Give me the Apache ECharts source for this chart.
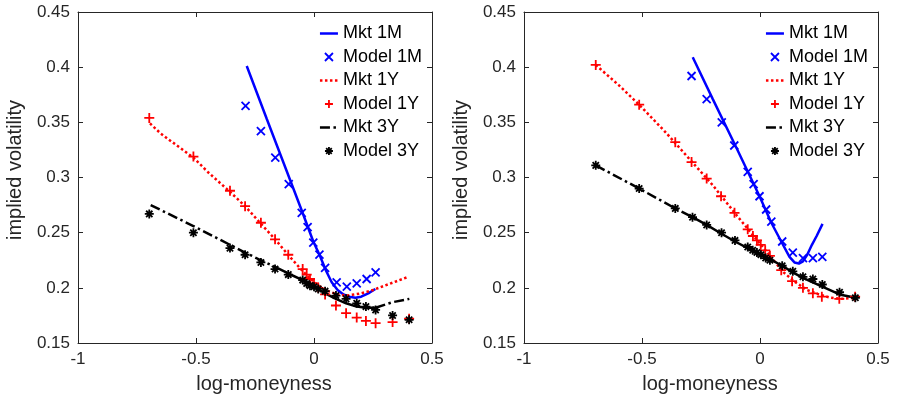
<!DOCTYPE html>
<html>
<head>
<meta charset="utf-8">
<script src="https://cdn.jsdelivr.net/npm/echarts@6/dist/echarts.min.js"></script>
<style>
html,body{margin:0;padding:0;background:#fff;}
#c{width:898px;height:403px;}
</style>
</head>
<body>
<div id="c"></div>
<script>
// ---------- data ----------
var names = ['Mkt 1M', 'Model 1M', 'Mkt 1Y', 'Model 1Y', 'Mkt 3Y', 'Model 3Y'];
var xTicks = [-1, -0.5, 0, 0.5];
var yTicks = [0.15, 0.2, 0.25, 0.3, 0.35, 0.4, 0.45];

// Left panel
var L_mkt1m_x = [-0.285,-0.2,-0.1,-0.05,-0.003,0.025,0.05,0.075,0.1,0.125,0.15,0.175,0.2,0.23,0.26];
var L_mkt1m_y = [0.401,0.353,0.297,0.269,0.242,0.229,0.216,0.205,0.198,0.194,0.192,0.191,0.192,0.195,0.199];
var L_mod1m_x = [-0.290,-0.225,-0.164,-0.107,-0.052,-0.027,-0.003,0.023,0.047,0.096,0.139,0.181,0.223,0.261];
var L_mod1m_y = [0.365,0.342,0.318,0.294,0.268,0.255,0.241,0.230,0.218,0.205,0.201,0.204,0.208,0.214];
var L_mkt1y_x = [-0.695,-0.65,-0.6,-0.511,-0.45,-0.356,-0.292,-0.229,-0.165,-0.102,-0.06,-0.02,0.02,0.06,0.1,0.14,0.2,0.25,0.3,0.35,0.4];
var L_mkt1y_y = [0.349,0.340,0.332,0.318,0.305,0.287,0.274,0.259,0.244,0.228,0.218,0.209,0.202,0.197,0.194,0.193,0.195,0.198,0.202,0.206,0.210];
var L_mod1y_x = [-0.698,-0.511,-0.356,-0.292,-0.225,-0.165,-0.109,-0.048,-0.031,-0.017,0,0.018,0.047,0.093,0.136,0.181,0.220,0.261,0.333,0.403];
var L_mod1y_y = [0.354,0.319,0.288,0.274,0.259,0.244,0.230,0.217,0.212,0.208,0.204,0.200,0.194,0.184,0.177,0.173,0.170,0.168,0.169,0.172];
var L_mkt3y_x = [-0.692,-0.511,-0.356,-0.292,-0.225,-0.165,-0.109,-0.048,0,0.047,0.093,0.136,0.181,0.220,0.261,0.333,0.404];
var L_mkt3y_y = [0.275,0.256,0.239,0.232,0.225,0.219,0.213,0.207,0.201,0.195,0.190,0.186,0.183,0.182,0.182,0.187,0.190];
var L_mod3y_x = [-0.698,-0.511,-0.356,-0.292,-0.225,-0.165,-0.109,-0.048,-0.031,-0.017,0,0.018,0.047,0.093,0.136,0.181,0.220,0.261,0.333,0.403];
var L_mod3y_y = [0.267,0.250,0.236,0.230,0.223,0.217,0.212,0.207,0.204,0.202,0.201,0.199,0.197,0.193,0.190,0.186,0.183,0.180,0.175,0.171];

// Right panel
var R_mkt1m_x = [-0.285,-0.2,-0.1,-0.002,0.048,0.09,0.125,0.146,0.165,0.182,0.2,0.22,0.24,0.265];
var R_mkt1m_y = [0.409,0.371,0.327,0.283,0.259,0.242,0.228,0.223,0.222,0.224,0.230,0.239,0.247,0.258];
var R_mod1m_x = [-0.290,-0.226,-0.162,-0.109,-0.052,-0.027,-0.002,0.026,0.048,0.094,0.139,0.182,0.224,0.264];
var R_mod1m_y = [0.392,0.371,0.350,0.329,0.305,0.294,0.283,0.271,0.260,0.242,0.232,0.227,0.227,0.228];
var R_mkt1y_x = [-0.696,-0.6,-0.512,-0.4,-0.3,-0.2,-0.1,-0.05,0,0.05,0.1,0.15,0.2,0.25,0.3,0.35,0.405];
var R_mkt1y_y = [0.402,0.384,0.366,0.341,0.317,0.293,0.266,0.253,0.240,0.227,0.214,0.205,0.198,0.194,0.191,0.190,0.191];
var R_mod1y_x = [-0.696,-0.512,-0.359,-0.290,-0.226,-0.165,-0.108,-0.052,-0.030,-0.013,0.003,0.022,0.042,0.090,0.136,0.182,0.224,0.262,0.336,0.403];
var R_mod1y_y = [0.402,0.366,0.332,0.314,0.299,0.283,0.268,0.253,0.247,0.243,0.239,0.234,0.229,0.216,0.206,0.200,0.195,0.192,0.190,0.192];
var R_mkt3y_x = [-0.696,-0.512,-0.359,-0.286,-0.226,-0.163,-0.106,-0.052,0.004,0.042,0.094,0.139,0.182,0.224,0.264,0.337,0.404];
var R_mkt3y_y = [0.311,0.290,0.272,0.264,0.257,0.249,0.242,0.236,0.230,0.226,0.220,0.214,0.209,0.205,0.201,0.194,0.191];
var R_mod3y_x = [-0.696,-0.512,-0.359,-0.286,-0.226,-0.163,-0.106,-0.052,-0.031,-0.013,0.004,0.024,0.042,0.094,0.139,0.182,0.224,0.264,0.337,0.404];
var R_mod3y_y = [0.311,0.290,0.272,0.264,0.257,0.250,0.243,0.237,0.234,0.232,0.230,0.227,0.225,0.220,0.215,0.210,0.208,0.203,0.196,0.191];

// ---------- styling ----------
var FONT = "'Liberation Sans', Arial, Helvetica, sans-serif";
var AX = '#262626';
var BLUE = '#0000FF', RED = '#FF0000', BLACK = '#000000';
var SYM_X = 'path://M0 0L10 10M10 0L0 10';
var SYM_PLUS = 'path://M5 0L5 10M0 5L10 5';
var SYM_STAR = 'path://M5 0L5 10M0 5L10 5M1.5 1.5L8.5 8.5M8.5 1.5L1.5 8.5';
var DOT = [2.5, 2.5];
var DASHDOT = [10, 3.5, 2.5, 3.5];

function pairs(xs, ys, a, b) {
  var out = [];
  for (var i = (a || 0); i < (b === undefined ? xs.length : b); i++) out.push([xs[i], ys[i]]);
  return out;
}

var grids = [
  {left: 78, top: 12, width: 354, height: 331},
  {left: 524, top: 12, width: 354, height: 331}
];

var xAxes = [], yAxes = [];
grids.forEach(function (g, gi) {
  xAxes.push({
    gridIndex: gi, type: 'value', position: 'bottom',
    min: xTicks[0], max: xTicks[xTicks.length - 1], interval: 0.5,
    name: 'log-moneyness', nameLocation: 'middle', nameGap: 31,
    nameTextStyle: {fontFamily: FONT, fontSize: 20, color: AX, padding: [0, 0, 0, 18]},
    axisLine: {show: true, onZero: false, lineStyle: {color: AX, width: 1}},
    axisTick: {show: true, inside: true, length: 5, lineStyle: {color: AX}},
    axisLabel: {show: true, margin: 8, fontFamily: FONT, fontSize: 17, color: AX},
    splitLine: {show: false}
  });
  xAxes.push({
    gridIndex: gi, type: 'value', position: 'top',
    min: xTicks[0], max: xTicks[xTicks.length - 1], interval: 0.5,
    axisLine: {show: true, onZero: false, lineStyle: {color: AX, width: 1}},
    axisTick: {show: true, inside: true, length: 5, lineStyle: {color: AX}},
    axisLabel: {show: false}, splitLine: {show: false}
  });
  yAxes.push({
    gridIndex: gi, type: 'value', position: 'left',
    min: yTicks[0], max: yTicks[yTicks.length - 1], interval: 0.05,
    name: 'implied volatility', nameLocation: 'middle', nameGap: 53,
    nameTextStyle: {fontFamily: FONT, fontSize: 20, color: AX, padding: [0, 0, 0, 15]},
    axisLine: {show: true, onZero: false, lineStyle: {color: AX, width: 1}},
    axisTick: {show: true, inside: true, length: 5, lineStyle: {color: AX}},
    axisLabel: {show: true, margin: 8, fontFamily: FONT, fontSize: 17, color: AX},
    splitLine: {show: false}
  });
  yAxes.push({
    gridIndex: gi, type: 'value', position: 'right',
    min: yTicks[0], max: yTicks[yTicks.length - 1], interval: 0.05,
    axisLine: {show: true, onZero: false, lineStyle: {color: AX, width: 1}},
    axisTick: {show: true, inside: true, length: 5, lineStyle: {color: AX}},
    axisLabel: {show: false}, splitLine: {show: false}
  });
});

function lineS(name, data, gi, color, type, width) {
  return {
    name: name, type: 'line', data: data,
    xAxisIndex: gi * 2, yAxisIndex: gi * 2,
    symbol: 'none', showSymbol: false, smooth: false,
    lineStyle: {color: color, width: width, type: type, cap: 'butt'},
    itemStyle: {color: color},
    emphasis: {disabled: true}, silent: true, z: 2
  };
}
function scatS(name, data, gi, color, sym, size) {
  return {
    name: name, type: 'scatter', data: data,
    xAxisIndex: gi * 2, yAxisIndex: gi * 2,
    symbol: sym, symbolSize: size,
    itemStyle: {color: color, borderColor: color, borderWidth: 1.8, opacity: 1},
    emphasis: {disabled: true}, silent: true, z: 2
  };
}

var series = [];
// Left panel
series.push(lineS('Mkt 1M', pairs(L_mkt1m_x, L_mkt1m_y), 0, BLUE, 'solid', 2.5));
series.push(scatS('Model 1M', pairs(L_mod1m_x, L_mod1m_y), 0, BLUE, SYM_X, 8));
series.push(lineS('Mkt 1Y', pairs(L_mkt1y_x, L_mkt1y_y), 0, RED, DOT, 2.5));
series.push(scatS('Model 1Y', pairs(L_mod1y_x, L_mod1y_y), 0, RED, SYM_PLUS, 10));
series.push(lineS('Mkt 3Y', pairs(L_mkt3y_x, L_mkt3y_y, 0, 6), 0, BLACK, DASHDOT, 2.5));
series.push(lineS('Mkt 3Y seg', pairs(L_mkt3y_x, L_mkt3y_y, 5, 15), 0, BLACK, 'solid', 2.5));
series.push(lineS('Mkt 3Y seg2', pairs(L_mkt3y_x, L_mkt3y_y, 14), 0, BLACK, DASHDOT, 2.5));
series.push(scatS('Model 3Y', pairs(L_mod3y_x, L_mod3y_y), 0, BLACK, SYM_STAR, 9));
// Right panel
series.push(lineS('Mkt 1M', pairs(R_mkt1m_x, R_mkt1m_y), 1, BLUE, 'solid', 2.5));
series.push(scatS('Model 1M', pairs(R_mod1m_x, R_mod1m_y), 1, BLUE, SYM_X, 8));
series.push(lineS('Mkt 1Y', pairs(R_mkt1y_x, R_mkt1y_y), 1, RED, DOT, 2.5));
series.push(scatS('Model 1Y', pairs(R_mod1y_x, R_mod1y_y), 1, RED, SYM_PLUS, 10));
series.push(lineS('Mkt 3Y', pairs(R_mkt3y_x, R_mkt3y_y, 0, 4), 1, BLACK, DASHDOT, 2.5));
series.push(lineS('Mkt 3Y seg', pairs(R_mkt3y_x, R_mkt3y_y, 3), 1, BLACK, 'solid', 2.5));
series.push(scatS('Model 3Y', pairs(R_mod3y_x, R_mod3y_y), 1, BLACK, SYM_STAR, 9));

function legendAt(left) {
  var data = names.map(function (n) {
    if (n.indexOf('Mkt') === 0) {
      // line entries: hide the marker that the line legend icon adds
      return {name: n, itemStyle: {opacity: 0}, lineStyle: {opacity: 1}};
    }
    return {name: n};
  });
  return {
    show: true, orient: 'vertical', left: left, top: 19.5,
    itemWidth: 18, itemHeight: 8, itemGap: 5.5, padding: 5,
    data: data, selectedMode: false,
    textStyle: {fontFamily: FONT, fontSize: 18, color: '#000'},
    lineStyle: {width: 2.5},
    itemStyle: {borderWidth: 1.8}
  };
}

var chart = echarts.init(document.getElementById('c'), null, {renderer: 'canvas'});
chart.setOption({
  animation: false,
  backgroundColor: '#ffffff',
  grid: grids,
  xAxis: xAxes,
  yAxis: yAxes,
  legend: [legendAt(313.7), legendAt(759.7)],
  series: series
});
</script>
</body>
</html>
